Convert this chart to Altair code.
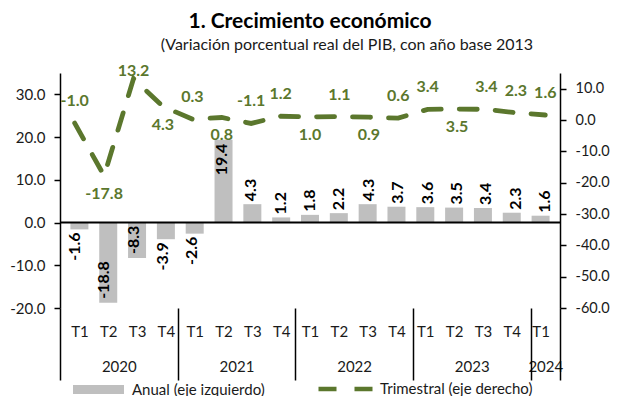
import json
import numpy as np
import pandas as pd
import altair as alt

# ---------------- datos ----------------
trimestres = ["T1", "T2", "T3", "T4", "T1", "T2", "T3", "T4", "T1", "T2", "T3", "T4",
              "T1", "T2", "T3", "T4", "T1"]
anios = ["2020"] * 4 + ["2021"] * 4 + ["2022"] * 4 + ["2023"] * 4 + ["2024"]
anual = [-1.6, -18.8, -8.3, -3.9, -2.6, 19.4, 4.3, 1.2, 1.8, 2.2, 4.3, 3.7,
         3.6, 3.5, 3.4, 2.3, 1.6]
trimestral = [-1.0, -17.8, 13.2, 4.3, 0.3, 0.8, -1.1, 1.2, 1.0, 1.1, 0.9, 0.6,
              3.4, 3.5, 3.4, 2.3, 1.6]
# lado de la etiqueta de la serie trimestral (estilo)
lado_trim = ["arriba", "abajo", "pico", "abajo", "arriba", "abajo", "arriba", "arriba",
             "abajo", "arriba", "abajo", "arriba", "arriba", "abajo", "arriba", "arriba",
             "arriba"]
ticks_izq = [-20, -10, 0, 10, 20, 30]
ticks_der = [-60, -50, -40, -30, -20, -10, 0, 10]

titulo = "1. Crecimiento económico"
subtitulo = "(Variación porcentual real del PIB, con año base 2013"
serie_a = "Anual (eje izquierdo)"
serie_t = "Trimestral (eje derecho)"

VERDE = "#5B772D"
GRIS = "#BFBFBF"
FUENTE = "Lato"
TXT = "#1a1a1a"
FMT = "replace(format(datum.value, '.1f'), '\u2212', '-')"

n = len(trimestres)
df = pd.DataFrame({
    "idx": list(range(n)),
    "trimestre": trimestres,
    "anio": anios,
    "anual": anual,
    "trimestral": trimestral,
    "lado": lado_trim,
})
df["serie_a"] = serie_a
df["serie_t"] = serie_t
df["et_a"] = [f"{v:.1f}" for v in anual]
df["et_t"] = [f"{v:.1f}" for v in trimestral]
grande = df["anual"].abs() > 5
df["pos_a"] = np.where(df["anual"] >= 0,
                       np.where(grande, "dentro_pos", "fuera_pos"),
                       np.where(grande, "dentro_neg", "fuera_neg"))

yr = df.groupby("anio", sort=False)["idx"].agg(["min", "max"]).reset_index()
yr["mid"] = (yr["min"] + yr["max"]) / 2
mids = yr["mid"].tolist()
limites = (yr["min"] - 0.5).tolist() + [float(yr["max"].iloc[-1]) + 0.5]
lim_df = pd.DataFrame({"limite": limites})

xscale = alt.Scale(domain=[-0.5, n - 0.5], nice=False, zero=False)
yl_scale = alt.Scale(domain=[-20, 35], nice=False, zero=False)
yr_scale = alt.Scale(domain=[-60, 15], nice=False, zero=False)

base = alt.Chart(df)
x_plain = alt.X("idx:Q", scale=xscale, axis=None)
y_left_plain = alt.Y("anual:Q", scale=yl_scale, axis=None)
y_right_plain = alt.Y("trimestral:Q", scale=yr_scale, axis=None)

# ---------------- barras (eje izquierdo) ----------------
x_trim = alt.X(
    "idx:Q", scale=xscale,
    axis=alt.Axis(values=list(range(n)),
                  labelExpr=f"{json.dumps(trimestres)}[datum.value]",
                  ticks=False, domain=False, grid=False, labelPadding=16,
                  labelFontSize=15, labelFont=FUENTE, labelColor=TXT, title=None,
                  orient="bottom", labelFlush=False, labelOverlap=False),
)
y_left = alt.Y(
    "anual:Q", scale=yl_scale,
    axis=alt.Axis(values=ticks_izq, labelExpr=FMT, orient="left",
                  grid=False, title=None, domainColor="black", domainWidth=1.5,
                  tickColor="black", tickWidth=1.5, tickSize=6, labelPadding=9,
                  labelFontSize=15, labelFont=FUENTE, labelColor=TXT),
)

bars = base.mark_bar(size=18).encode(
    x=x_trim, y=y_left,
    fill=alt.Fill("serie_a:N", scale=alt.Scale(range=[GRIS]),
                  legend=alt.Legend(title=None, orient="none", legendX=13, legendY=291,
                                    symbolType="M-1,-0.18H1V0.18H-1Z", symbolSize=2601,
                                    symbolStrokeWidth=0, labelFont=FUENTE,
                                    labelFontSize=15, labelColor=TXT, labelOffset=8,
                                    labelLimit=400)),
)

txt_bar = dict(angle=270, baseline="middle", font=FUENTE, fontWeight="bold",
               fontSize=16, color="black")
ajustes = {"fuera_pos": ("left", 3), "dentro_pos": ("right", -4),
           "fuera_neg": ("right", -3), "dentro_neg": ("left", 4)}
bar_labels = [
    base.transform_filter(alt.datum.pos_a == k).mark_text(align=a, dx=d, **txt_bar).encode(
        x=x_plain, y=y_left_plain, text="et_a:N")
    for k, (a, d) in ajustes.items()
]

cero = alt.Chart(pd.DataFrame({"anual": [0]})).mark_rule(color="black", strokeWidth=2).encode(
    y=y_left_plain)

# ---------------- linea (eje derecho) ----------------
y_right = alt.Y(
    "trimestral:Q", scale=yr_scale,
    axis=alt.Axis(values=ticks_der, labelExpr=FMT,
                  orient="right", grid=False, title=None, domainColor="black",
                  domainWidth=1.5, tickColor="black", tickWidth=1.5, tickSize=6,
                  labelPadding=9, labelFontSize=14.5, labelFont=FUENTE, labelColor=TXT),
)
line = base.mark_line(strokeDash=[18, 18], strokeWidth=4.8, strokeCap="round").encode(
    x=x_plain, y=y_right,
    stroke=alt.Stroke("serie_t:N", scale=alt.Scale(range=[VERDE]),
                      legend=alt.Legend(title=None, orient="none", legendX=256, legendY=285,
                                        symbolType="stroke", symbolSize=3249,
                                        symbolStrokeWidth=4.5, symbolDash=[18, 18],
                                        labelFont=FUENTE, labelFontSize=15,
                                        labelColor=TXT, labelOffset=2, labelLimit=400)),
)
desplaz = {"arriba": -22, "abajo": 18, "pico": -8}
line_labels = [
    base.transform_filter(alt.datum.lado == k).mark_text(
        dy=d, font=FUENTE, fontWeight="bold", fontSize=16, color=VERDE).encode(
        x=x_plain, y=y_right_plain, text="et_t:N")
    for k, d in desplaz.items()
]

# ---------------- eje de años y separadores ----------------
year_layer = alt.Chart(yr).mark_point(opacity=0, size=1).encode(
    x=alt.X("mid:Q", scale=xscale,
            axis=alt.Axis(values=mids,
                          labelExpr=f"{json.dumps(yr['anio'].tolist())}[indexof({json.dumps(mids)}, datum.value)]",
                          ticks=False, domain=False, grid=False, labelPadding=51,
                          labelFontSize=15, labelFont=FUENTE, labelColor=TXT,
                          title=None, orient="bottom", labelFlush=False,
                          labelOverlap=False)),
    y=alt.value(0),
)
sep_layer = alt.Chart(lim_df).mark_point(opacity=0, size=1).encode(
    x=alt.X("limite:Q", scale=xscale,
            axis=alt.Axis(values=limites, labels=False, domain=False, ticks=True,
                          tickSize=72, tickWidth=1.5, tickColor="black", grid=False,
                          title=None, orient="bottom")),
    y=alt.value(0),
)

sub_layer = alt.Chart(pd.DataFrame({"t": [subtitulo]})).mark_text(
    font=FUENTE, fontSize=16, color=TXT, align="center", baseline="middle").encode(
    text="t:N", x=alt.value(287), y=alt.value(-28))

chart = alt.layer(
    bars, cero, *bar_labels, line, *line_labels, year_layer, sep_layer, sub_layer
).resolve_scale(
    x="independent", y="independent"
).properties(
    width=500, height=235,
    padding={"left": 52, "top": 65, "right": 52, "bottom": 88},
    autosize=alt.AutoSizeParams(type="none"),
    title=alt.TitleParams(text=titulo, anchor="middle", font=FUENTE, fontSize=21,
                          fontWeight="bold", color="black", offset=5),
).configure_view(stroke=None)

chart.save("out.html", embed_options={"renderer": "svg", "actions": False})
